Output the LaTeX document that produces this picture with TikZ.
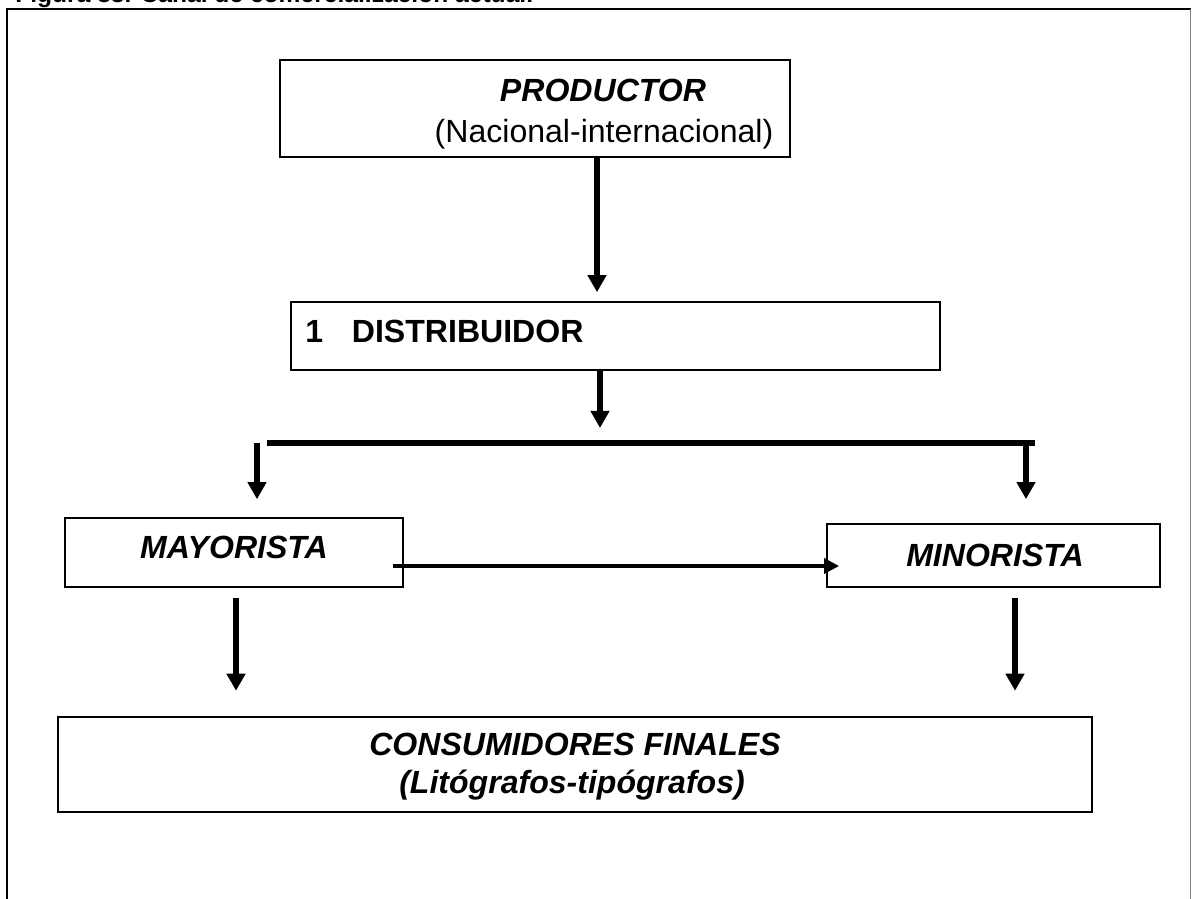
\documentclass[tikz,border=0pt]{standalone}
\usepackage{fontspec}
\setmainfont{Liberation Sans}
\usetikzlibrary{arrows.meta}
\begin{document}
\begin{tikzpicture}[x=0.025cm,y=-0.025cm,
		box/.style={draw,line width=1.1pt,inner sep=0pt},
		txt/.style={font=\fontsize{22.8}{26}\selectfont,anchor=base,inner sep=0pt},
		btxt/.style={txt,font=\bfseries\fontsize{22.8}{26}\selectfont},
		bitxt/.style={txt,font=\bfseries\itshape\fontsize{22.8}{26}\selectfont},
		arr/.style={line width=3.9pt,-{Triangle[width=12.8pt,length=12.1pt]}},
		harr/.style={line width=2.5pt,-{Triangle[width=10.7pt,length=10.7pt]}}]
	\useasboundingbox(0,0)rectangle(1192,899);
	\node[anchor=base west,inner sep=0pt,font=\bfseries\fontsize{17.5}{20}\selectfont](titulo)at(15,3){Figura 33. Canal de comercialización actual.};
	\draw[line width=1.4pt](7,910)--(7,9)--(1191,9);
	\draw[line width=0.7pt,gray](1190.5,9)--(1190.5,910);
	\node[box,minimum width=12.75cm,minimum height=2.425cm](prod)at(535,108.5){};
	\node[bitxt](prodt)at(603,102){PRODUCTOR};
	\node[txt](prodn)at(604,143){(Nacional-internacional)};
	\node[box,minimum width=16.225cm,minimum height=1.7cm](dist)at(615.5,336){};
	\node[btxt,anchor=base west](distt)at(305,343){1\hspace{0.9em}DISTRIBUIDOR};
	\node[box,minimum width=8.45cm,minimum height=1.725cm](mayo)at(234,552.5){};
	\node[bitxt](mayot)at(234,558){MAYORISTA};
	\node[box,minimum width=8.325cm,minimum height=1.575cm](mino)at(993.5,555.5){};
	\node[bitxt](minot)at(995,566){MINORISTA};
	\node[box,line width=1.7pt,minimum width=25.85cm,minimum height=2.375cm](cons)at(575,764.5){};
	\node[bitxt](const)at(575,755){CONSUMIDORES FINALES};
	\node[bitxt](consl)at(572,793){(Litógrafos-tipógrafos)};
	\coordinate(j1)at(267,443);
	\coordinate(j2)at(1035,443);
	\coordinate(x1)at(597,0);
	\coordinate(x2)at(600,0);
	\coordinate(x3)at(257,0);
	\coordinate(x4)at(1026,0);
	\coordinate(x6)at(236,0);
	\coordinate(x7)at(1015,0);
	\coordinate(hy)at(0,566);
	\draw[line width=3.8pt](j1)--(j2);
	\draw[arr,shorten >=6.4pt](prod.south-|x1)--(dist.north-|x1);
	\draw[arr,shorten >=10.7pt](dist.south-|x2)--(j1-|x2);
	\draw[arr,shorten >=12.8pt](j1-|x3)--(mayo.north-|x3);
	\draw[arr,shorten >=17.1pt](j2-|x4)--(mino.north-|x4);
	\draw[harr,shorten <=-7.8pt,shorten >=-9.2pt](mayo.east|-hy)--(mino.west|-hy);
	\draw[arr,shorten <=7.1pt,shorten >=17.8pt](mayo.south-|x6)--(cons.north-|x6);
	\draw[arr,shorten <=7.1pt,shorten >=17.8pt](mino.south-|x7)--(cons.north-|x7);
\end{tikzpicture}
\end{document}
